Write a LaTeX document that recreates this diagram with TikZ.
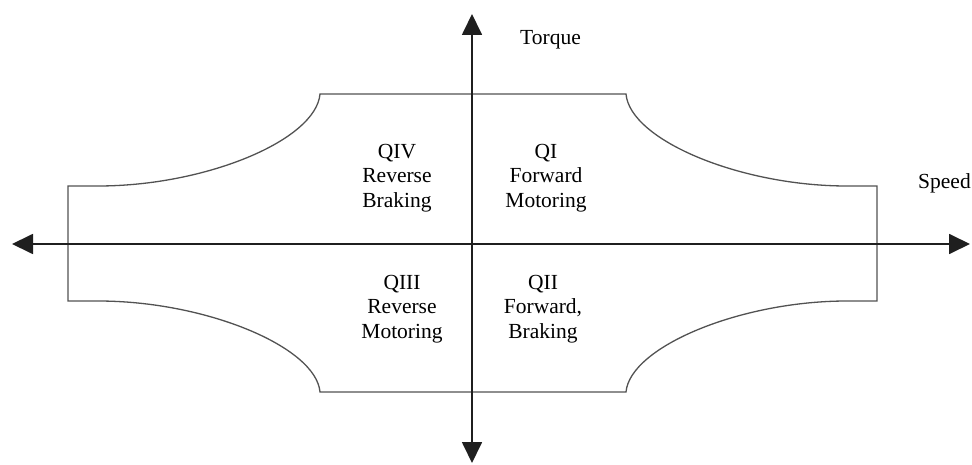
\documentclass[tikz,border=0pt]{standalone}
\usepackage{fontspec}
\setmainfont{Liberation Serif}
\usetikzlibrary{arrows.meta}
\begin{document}
\begin{tikzpicture}[x=1pt,y=-1pt,
  axis/.style={draw=black!88,line width=1.8pt,{Triangle[length=21pt,width=20pt]}-{Triangle[length=21pt,width=20pt]}},
  envelope/.style={draw=black!68,line width=1.3pt,line join=miter},
  quad/.style={align=center,inner sep=0pt,anchor=north,font=\fontsize{21.5}{24.5}\selectfont},
  axlabel/.style={inner sep=0pt,anchor=base west,font=\fontsize{21.5}{24.5}\selectfont}]
\useasboundingbox (0,0) rectangle (972,465);
% axes
\coordinate (xl) at (12,244);
\coordinate (xr) at (970,244);
\coordinate (yt) at (472,14);
\coordinate (yb) at (472,463);
% envelope
\draw[envelope] (320,94) -- (626,94)
  .. controls (630,140) and (740,186) .. (847,186) -- (877,186) -- (877,301) -- (847,301)
  .. controls (740,301) and (630,347) .. (626,392) -- (320,392)
  .. controls (316,347) and (206,301) .. (98,301) -- (68,301) -- (68,186) -- (98,186)
  .. controls (206,186) and (316,140) .. (320,94) -- cycle;
\draw[axis] (xl) -- (xr);
\draw[axis] (yb) -- (yt);
% labels
\node[axlabel] (torque) at (520,45) {Torque};
\node[axlabel] (speed) at (918,189) {Speed};
\node[quad] (q4) at (397,144) {QIV\\Reverse\\Braking};
\node[quad] (q1) at (546,144) {QI\\Forward\\Motoring};
\node[quad] (q3) at (402,275) {QIII\\Reverse\\Motoring};
\node[quad] (q2) at (543,275) {QII\\Forward,\\Braking};
\end{tikzpicture}
\end{document}
